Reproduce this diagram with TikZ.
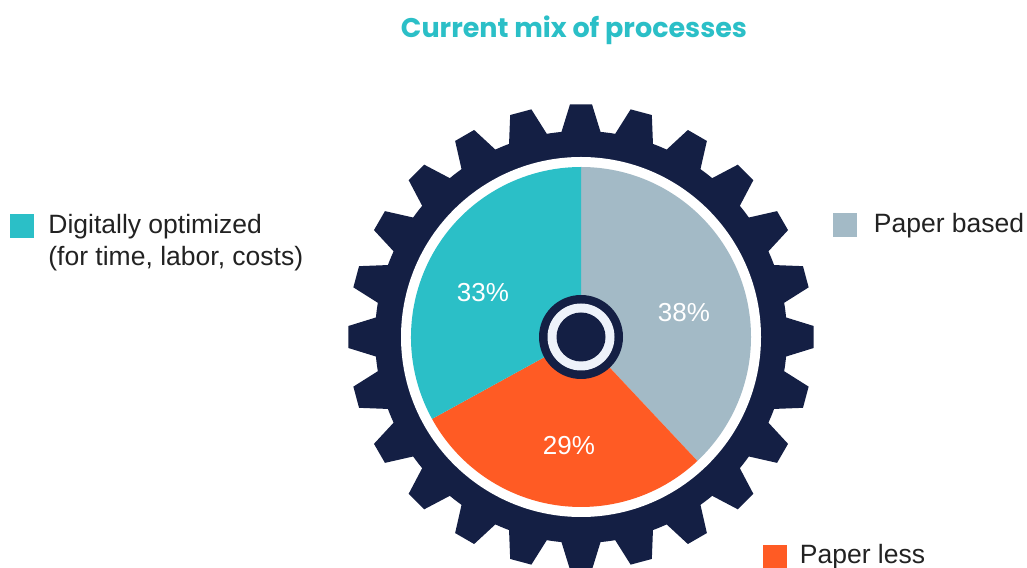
\documentclass[tikz,border=0pt]{standalone}
\usepackage{fontspec}
\setmainfont{Liberation Sans}
\newfontfamily\titlefont{Poppins}
\usetikzlibrary{positioning}
\definecolor{gearnavy}{HTML}{141F44}
\definecolor{mixteal}{HTML}{2BBFC7}
\definecolor{mixgrey}{HTML}{A3BAC6}
\definecolor{mixorange}{HTML}{FF5B24}
\definecolor{hubring}{HTML}{EEF2FA}
\definecolor{legendtext}{HTML}{222222}
\begin{document}
\begin{tikzpicture}
  [x=1pt,y=1pt
  ,key/.style={rectangle,minimum size=24pt,inner sep=0pt}
  ,legend/.style={text=legendtext,font=\fontsize{26.5}{32}\selectfont,align=left,inner sep=0pt}
  ,pct/.style={text=white,font=\fontsize{26}{30}\selectfont}]
\useasboundingbox (0,0) rectangle (1027,567);
\coordinate (hub) at (581,230);
\node[font=\titlefont\bfseries\fontsize{27}{30}\selectfont,text=mixteal] (title) at (574,537) {Current mix of processes};
%
\fill[gearnavy] (hub) circle (206);
\foreach \a in {0,15,...,345}
  \fill[gearnavy,shift={(hub)}] (\a-6.8:195) -- (\a-2.7:233) -- (\a+2.7:233) -- (\a+6.8:195) -- cycle;
\fill[white] (hub) circle (180);
\fill[mixgrey,shift={(hub)}] (0,0) -- (90:170) arc[start angle=90,end angle=-46.8,radius=170] -- cycle;
\fill[mixorange,shift={(hub)}] (0,0) -- (-46.8:170) arc[start angle=-46.8,end angle=-151.2,radius=170] -- cycle;
\fill[mixteal,shift={(hub)}] (0,0) -- (-151.2:170) arc[start angle=-151.2,end angle=-270,radius=170] -- cycle;
\fill[gearnavy] (hub) circle (42);
\fill[hubring] (hub) circle (33.5);
\fill[gearnavy] (hub) circle (24.5);
%
\node[pct] (p33) at (483,274) {33\%};
\node[pct] (p38) at (684,254) {38\%};
\node[pct] (p29) at (569,121) {29\%};
%
\node[key,fill=mixteal] (kdig) at (22,341) {};
\node[legend,anchor=north west] (digital) at ([xshift=14pt]kdig.north east) {Digitally optimized\\(for time, labor, costs)};
\node[key,fill=mixgrey] (kbased) at (844.5,341.5) {};
\node[legend,right=17pt of kbased] (based) {Paper based};
\node[key,fill=mixorange] (kless) at (774.5,10) {};
\node[legend,right=13pt of kless] (less) {Paper less};
\end{tikzpicture}
\end{document}
